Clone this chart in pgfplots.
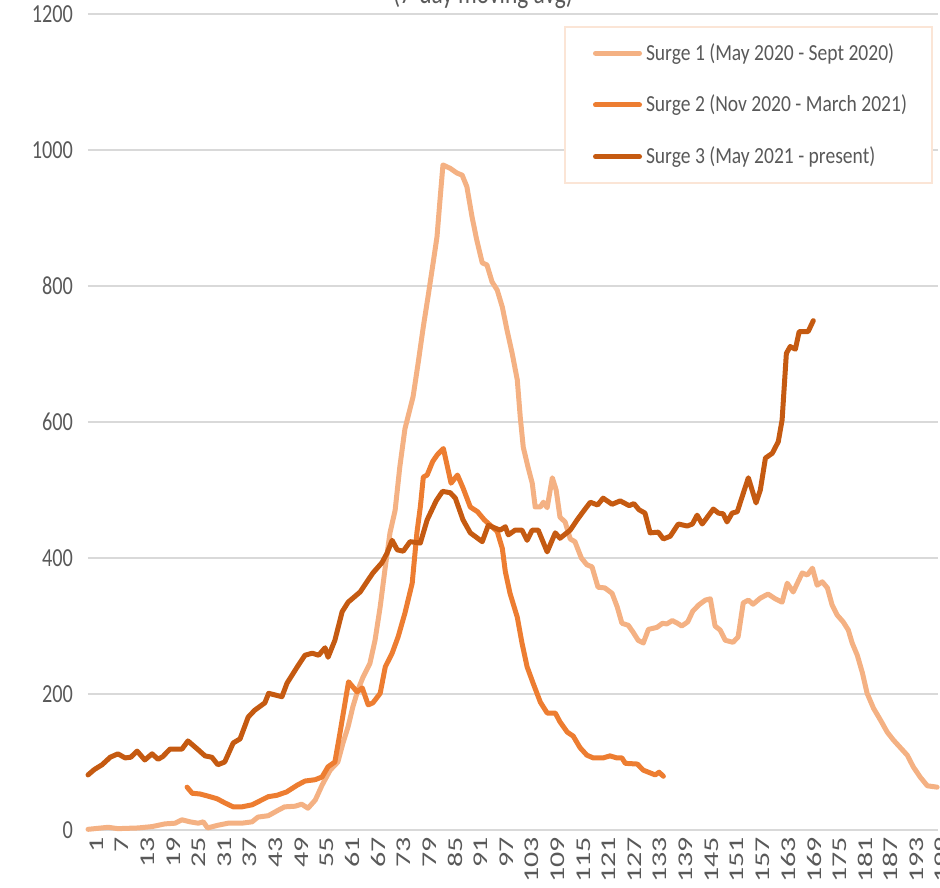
\documentclass[border=0pt]{standalone}
\usepackage{pgfplots}
\pgfplotsset{compat=1.18}
\usepackage{fontspec}
\setmainfont{Carlito}[FakeStretch=0.78]
\newfontfamily\legfont{Carlito}[FakeStretch=0.85]
\newfontfamily\xfont{Carlito}
\definecolor{sone}{HTML}{F4B183}
\definecolor{stwo}{HTML}{ED7D31}
\definecolor{sthree}{HTML}{C55A11}
\definecolor{gridc}{HTML}{D9D9D9}
\definecolor{txt}{HTML}{595959}
\definecolor{legb}{HTML}{FBE5D6}
\begin{document}
\begin{tikzpicture}
\begin{axis}[
  at={(0,0)}, anchor=south west,
  scale only axis, width=425pt, height=408pt,
  xmin=1, xmax=200, ymin=0, ymax=1200,
  clip=false,
  xtick={1,7,...,199}, ytick={0,200,...,1200},
  /pgf/number format/assume math mode=true,
  /pgf/number format/1000 sep={},
  axis line style={draw=none},
  tick style={draw=none},
  ymajorgrids, major grid style={gridc, line width=1pt},
  yticklabel style={font=\fontsize{13}{13}\selectfont, text=txt, xshift=-4pt},
  xticklabel style={font=\xfont\fontsize{15}{15}\selectfont, text=txt, rotate=90, anchor=east, yscale=0.7, yshift=-6pt},
  legend style={at={(0.56,0.985)}, anchor=north west, draw=legb, line width=1pt,
    inner xsep=14pt, inner ysep=6pt, row sep=12pt,
    font=\legfont\fontsize{11.5}{12}\selectfont, text=txt, cells={anchor=west}},
  legend image code/.code={\draw[#1, line cap=round] (0pt,0pt) -- (22pt,0pt);},
  every axis plot/.append style={line width=2.5pt, line join=round, line cap=round},
]
\addplot[sone] coordinates {
(1,1) (5.7,4) (8,2) (12.7,3) (16,5) (19,9) (21.4,10) (23,15) (24.9,12) (26.8,10)
(28,12) (29,3) (31.4,7) (33.8,10) (37,10) (39.4,12) (40.8,19) (43.2,21) (45.5,29) (47,34)
(49.5,35) (51,38) (52.5,32) (54.2,44) (55.3,59) (55.8,66) (57.7,88) (59.5,100) (60.7,128) (61.9,152)
(63,181) (64.2,206) (65.4,225) (67,245) (68.2,279) (69.4,328) (70.6,387) (71.7,437) (72.9,470) (74,534)
(75.2,590) (77.1,637) (78.3,687) (79.5,740) (80.6,784) (81.8,834) (82.7,872) (83.4,926) (84.1,978) (85.8,973)
(87.4,966) (88.6,963) (89.7,946) (90.9,902) (92,868) (93.3,834) (94.4,831) (95.6,806) (96.8,794) (98,769)
(99.1,735) (100.3,701) (101.5,662) (102.2,607) (102.9,563) (104,534) (105,510) (105.7,475) (106.9,475) (107.6,482)
(108.5,474) (109.7,518) (110.6,500) (111.5,460) (112.7,453) (113.9,428) (115,424) (116.5,400) (117.8,390) (119,387)
(120.4,357) (122,356) (123.7,348) (124.9,328) (126,304) (127.5,301) (128.6,291) (129.8,279) (131,275) (132.2,295)
(134.2,298) (135.5,304) (136.5,303) (137.8,308) (139,304) (140,300) (141.4,306) (142.6,322) (144,331) (145.5,338)
(146.7,340) (147.8,300) (149,294) (150.2,279) (152,276) (153.2,284) (154.4,334) (155.6,338) (156.7,332) (158.4,341)
(160.2,347) (161.9,340) (163.5,335) (164.7,363) (166.1,350) (168.2,378) (169.4,375) (170.6,385) (171.7,360) (172.9,365)
(174.1,356) (175.2,331) (176.4,316) (177.8,306) (179,294) (179.9,275) (181.1,257) (182.3,231) (183.4,201) (184.9,179)
(186.5,162) (188.1,144) (189.6,132) (191.2,121) (192.8,110) (194.2,93) (195.8,78) (197.5,65) (199.8,63)
};
\addlegendentry{\makebox[127pt][l]{Surge 1 (May 2020 - Sept 2020)}}
\addplot[stwo] coordinates {
(24.2,63) (25.4,54) (27.2,53) (29,50) (31.2,46) (33,40) (35,34) (37,34) (39.4,37) (41.3,43)
(43.2,49) (45.2,51) (47.5,56) (50,66) (51.8,72) (54.2,74) (55.8,78) (57.2,93) (58.8,100) (60,143)
(62,218) (64,203) (65.2,209) (66.6,184) (67.7,187) (69.4,201) (70.6,240) (72.2,260) (73.6,284) (75.2,319)
(76.9,363) (78,437) (78.8,475) (79.5,519) (80.4,522) (81.7,542) (82.8,552) (84.2,561) (86,510) (87.5,522)
(88.8,503) (90.5,475) (92.2,468) (93.8,456) (95.4,447) (96.8,439) (98,414) (98.7,380) (99.8,348) (101.5,313)
(102.6,275) (103.8,240) (105.2,216) (106.9,188) (108.5,172) (110.4,172) (111.5,159) (113.2,144) (114.6,138) (116.2,121)
(117.8,110) (119.3,106) (121.6,106) (123.2,109) (124.8,106) (126,106) (126.8,98) (129.6,97) (131,88) (132.6,84)
(133.8,81) (134.7,85) (135.7,79)
};
\addlegendentry{\makebox[127pt][l]{Surge 2 (Nov 2020 - March 2021)}}
\addplot[sthree] coordinates {
(1,81) (2.5,89) (4.3,96) (6.2,107) (8,112) (9.7,106) (11,107) (12.5,116) (14.3,103) (16,112)
(17.4,104) (18.5,108) (20.2,119) (23,119) (24.4,131) (26.8,118) (28.4,109) (30,107) (31.4,96) (33,100)
(35,128) (36.6,134) (38.5,166) (40,176) (42.4,187) (43.3,201) (46.4,196) (47.6,216) (50,240) (51.8,257)
(53.5,260) (55,257) (56.5,268) (57.2,254) (58.8,279) (60.5,321) (61.9,335) (64.7,350) (66.3,365) (67.7,378)
(69.8,393) (71,407) (72.2,426) (73.4,412) (74.8,410) (76.4,424) (78.8,422) (80.4,456) (82.5,484) (84,498)
(85.8,496) (87,488) (88.8,456) (90.5,437) (93.3,424) (94.7,448) (97.5,441) (98.7,446) (99.4,434) (101,441)
(102.6,441) (103.8,426) (105,441) (106.4,441) (108.5,409) (110.4,437) (111.5,429) (113.9,441) (115.5,456) (116.9,468)
(118.6,482) (120.3,478) (121.6,488) (123.7,479) (125.6,484) (127.7,477) (128.8,480) (130,471) (131.4,466) (132.6,437)
(134.5,438) (135.7,428) (137.3,432) (139.2,450) (141.3,447) (142.5,450) (143.6,463) (144.8,450) (147.4,472) (148.6,466)
(149.7,465) (150.6,453) (151.8,466) (153,468) (154.4,495) (155.6,518) (157.4,481) (158.4,500) (159.6,547) (161.2,554)
(162.6,571) (163.5,603) (164.5,701) (165.4,711) (166.6,707) (167.5,733) (169.6,733) (170.8,749)
};
\addlegendentry{\makebox[127pt][l]{Surge 3 (May 2021 - present)}}
\end{axis}
\node[anchor=base, text=txt, font=\fontsize{15}{15}\selectfont] at (197.5pt,413pt) {(7-day moving avg)};
\pgfresetboundingbox
\useasboundingbox (-44pt,-28.5pt) rectangle (426pt,415pt);
\end{tikzpicture}
\end{document}
